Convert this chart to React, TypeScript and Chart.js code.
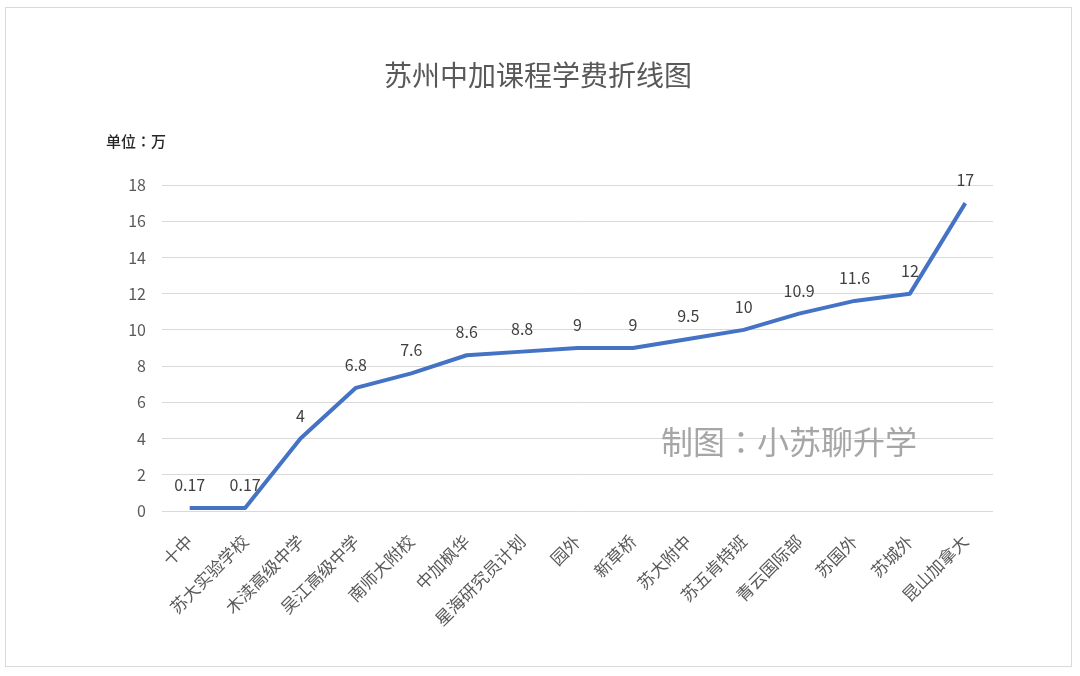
import { useRef, useEffect } from 'react';
import { Chart, registerables } from 'chart.js';

Chart.register(...registerables);

const schools = [
  '十中',
  '苏大实验学校',
  '木渎高级中学',
  '吴江高级中学',
  '南师大附校',
  '中加枫华',
  '星海研究员计划',
  '园外',
  '新草桥',
  '苏大附中',
  '苏五肯特班',
  '青云国际部',
  '苏国外',
  '苏城外',
  '昆山加拿大',
];

const fees = [0.17, 0.17, 4, 6.8, 7.6, 8.6, 8.8, 9, 9, 9.5, 10, 10.9, 11.6, 12, 17];

const yTicks = [0, 2, 4, 6, 8, 10, 12, 14, 16, 18];

const FONT = '"Noto Sans CJK SC", "Noto Sans", sans-serif';
// TC variant centres the full-width colon like the original
const FONT_TC = '"Noto Sans CJK TC", "Noto Sans CJK SC", sans-serif';

// value labels above each point, like Excel's "above" data labels
const valueLabels = {
  id: 'valueLabels',
  afterDatasetsDraw(chart: Chart) {
    const ctx = chart.ctx;
    const meta = chart.getDatasetMeta(0);
    ctx.save();
    ctx.font = `16px ${FONT}`;
    ctx.fillStyle = '#404040';
    ctx.textAlign = 'center';
    ctx.textBaseline = 'middle';
    meta.data.forEach((pt, i) => {
      ctx.fillText(String(fees[i]), pt.x, pt.y - 23);
    });
    ctx.restore();
  },
};

// title, unit caption and watermark
const extraText = {
  id: 'extraText',
  afterDraw(chart: Chart) {
    const ctx = chart.ctx;
    ctx.save();
    ctx.textBaseline = 'middle';
    ctx.textAlign = 'center';
    ctx.font = `28px ${FONT}`;
    ctx.fillStyle = '#595959';
    ctx.fillText('苏州中加课程学费折线图', 538, 75);
    ctx.textAlign = 'left';
    ctx.font = `500 15px ${FONT_TC}`;
    ctx.fillStyle = '#262626';
    ctx.fillText('单位：万', 106, 141);
    ctx.font = `32px ${FONT_TC}`;
    ctx.fillStyle = '#a6a6a6';
    ctx.fillText('制图：小苏聊升学', 661, 442);
    ctx.restore();
  },
};

const App = () => {
  const canvasRef = useRef<HTMLCanvasElement | null>(null);
  const chartRef = useRef<Chart | null>(null);

  useEffect(() => {
    document.body.style.margin = '0';
    if (!canvasRef.current) return;
    if (chartRef.current) chartRef.current.destroy();
    const ctx = canvasRef.current.getContext('2d');
    if (!ctx) return;

    chartRef.current = new Chart(ctx, {
      type: 'line',
      data: {
        labels: schools,
        datasets: [
          {
            label: '学费',
            data: fees,
            borderColor: '#4472C4',
            backgroundColor: '#4472C4',
            borderWidth: 4,
            borderJoinStyle: 'round',
            pointRadius: 0,
            tension: 0,
          },
        ],
      },
      plugins: [valueLabels, extraText],
      options: {
        animation: false,
        responsive: false,
        layout: { padding: { top: 185, right: 87, bottom: 0, left: 0 } },
        plugins: {
          legend: { display: false },
          tooltip: { enabled: false },
        },
        scales: {
          x: {
            offset: true,
            grid: { display: false },
            border: { display: false },
            ticks: {
              color: '#595959',
              font: { family: FONT, size: 17 },
              minRotation: 45,
              maxRotation: 45,
              autoSkip: false,
              padding: 12,
            },
            afterFit: (s: any) => {
              s.height = 165;
            },
          },
          y: {
            min: 0,
            max: 18,
            afterBuildTicks: (s: any) => {
              s.ticks = yTicks.map((v) => ({ value: v }));
            },
            grid: { color: '#d9d9d9', lineWidth: 1, drawTicks: false },
            border: { display: false },
            ticks: {
              color: '#595959',
              font: { family: FONT, size: 16 },
              padding: 16,
            },
            afterFit: (s: any) => {
              s.width = 162;
            },
          },
        },
      },
    });

    return () => {
      if (chartRef.current) chartRef.current.destroy();
    };
  }, []);

  return (
    <div style={{ position: 'relative', width: 1080, height: 676, background: '#fff' }}>
      <div
        style={{
          position: 'absolute',
          left: 5,
          top: 7,
          width: 1067,
          height: 660,
          border: '1px solid #d9d9d9',
          boxSizing: 'border-box',
        }}
      />
      <canvas ref={canvasRef} width={1080} height={676} style={{ position: 'absolute', left: 0, top: 0 }} />
    </div>
  );
};

export default App;
